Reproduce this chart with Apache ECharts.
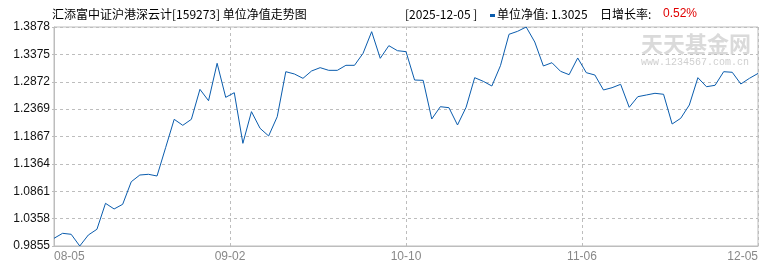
<!DOCTYPE html>
<html>
<head>
<meta charset="utf-8">
<script src="https://cdn.jsdelivr.net/npm/echarts@6/dist/echarts.min.js"></script>
<style>html,body{margin:0;padding:0;background:#fff;}#c{width:770px;height:270px;}</style>
</head>
<body>
<div id="c"></div>
<script>
// ---- data ----
const navValues = [
  0.9996, 1.0088, 1.0070, 0.9855, 1.0057, 1.0162, 1.0639, 1.0535, 1.0621, 1.1036,
  1.1159, 1.1172, 1.1141, 1.1661, 1.2182, 1.2072, 1.2182, 1.2733, 1.2524, 1.3211,
  1.2586, 1.2671, 1.1741, 1.2323, 1.2017, 1.1876, 1.2230, 1.3057, 1.3015, 1.2935,
  1.3070, 1.3131, 1.3082, 1.3082, 1.3174, 1.3174, 1.3395, 1.3792, 1.3303, 1.3535,
  1.3443, 1.3425, 1.2904, 1.2898, 1.2188, 1.2414, 1.2396, 1.2078, 1.2403, 1.2947,
  1.2880, 1.2794, 1.3167, 1.3744, 1.3799, 1.3878, 1.3602, 1.3162, 1.3222, 1.3064,
  1.3002, 1.3309, 1.3039, 1.2996, 1.2721, 1.2763, 1.2825, 1.2403, 1.2598, 1.2629,
  1.2660, 1.2642, 1.2096, 1.2201, 1.2445, 1.2947, 1.2781, 1.2807, 1.3057, 1.3046,
  1.2831, 1.2935, 1.3025
];
const xTickLabels = ['08-05', '09-02', '10-10', '11-06', '12-05'];
const yTickLabels = ['0.9855', '1.0358', '1.0861', '1.1364', '1.1867', '1.2369', '1.2872', '1.3375', '1.3878'];
const yMin = 0.9855, yMax = 1.3878;
const titleText = '汇添富中证沪港深云计[159273] 单位净值走势图';
const dateText = '[2025-12-05 ]';
const navText = '单位净值: 1.3025';
const rateLabel = '日增长率:';
const rateValue = '0.52%';

// ---- chart ----
const chart = echarts.init(document.getElementById('c'), null, {renderer: 'canvas'});
const lastIdx = navValues.length - 1;
const xInterval = lastIdx / (xTickLabels.length - 1);
const cjk = '"Noto Sans CJK SC", sans-serif';
const num = '"Liberation Sans", Arial, sans-serif';
const lineColor = '#0a5cad';
const gridColor = '#bdbdbd';

chart.setOption({
  animation: false,
  backgroundColor: '#fff',
  grid: {left: 54, right: 12, top: 27, bottom: 24, show: true, borderColor: gridColor, borderWidth: 1},
  xAxis: [{
    type: 'value', min: 0, max: lastIdx, interval: xInterval,
    axisLine: {show: true, lineStyle: {color: gridColor}},
    axisTick: {show: true, inside: true, length: 3, lineStyle: {color: gridColor}},
    splitLine: {show: true, lineStyle: {color: gridColor, type: [3, 3]}},
    axisLabel: {
      color: '#888', fontFamily: num, fontSize: 12, margin: 5,
      alignMinLabel: 'left', alignMaxLabel: 'right',
      formatter: v => xTickLabels[Math.round(v / xInterval)]
    }
  }],
  yAxis: [{
    type: 'value', min: yMin, max: yMax, show: false
  }, {
    type: 'value', min: 0, max: yTickLabels.length - 1, interval: 1, position: 'left',
    axisLine: {show: true, lineStyle: {color: gridColor}},
    axisTick: {show: true, length: 2, lineStyle: {color: gridColor}},
    splitLine: {show: true, lineStyle: {color: gridColor, type: [3, 3]}},
    axisLabel: {color: '#111', fontFamily: num, fontSize: 12, margin: 4, formatter: v => yTickLabels[v]}
  }],
  graphic: [
    {type: 'text', left: 641, top: 33, z: 0, style: {text: '天天基金网', font: 'bold 22px ' + cjk, fill: '#dadada'}},
    {type: 'text', left: 641, top: 57, z: 0, style: {text: 'www.1234567.com.cn', font: '10px "Liberation Mono", monospace', fill: '#cfcfcf'}},
    {type: 'text', left: 52, top: 8, style: {text: titleText, font: '12px ' + cjk, fill: '#000'}},
    {type: 'text', left: 405, top: 8, style: {text: dateText, font: '12px ' + cjk, fill: '#000'}},
    {type: 'rect', shape: {x: 490, y: 14, width: 5, height: 3}, style: {fill: lineColor}},
    {type: 'text', left: 497, top: 8, style: {text: navText, font: '12px ' + cjk, fill: '#000'}},
    {type: 'text', left: 600, top: 8, style: {text: rateLabel, font: '12px ' + cjk, fill: '#000'}},
    {type: 'text', left: 663, top: 8, style: {text: rateValue, font: '12px ' + num, fill: '#e00000'}}
  ],
  series: [{
    type: 'line',
    xAxisIndex: 0, yAxisIndex: 0,
    data: navValues.map((v, i) => [i, v]),
    showSymbol: false, symbol: 'none',
    lineStyle: {color: lineColor, width: 1},
    z: 5
  }]
});
</script>
</body>
</html>
